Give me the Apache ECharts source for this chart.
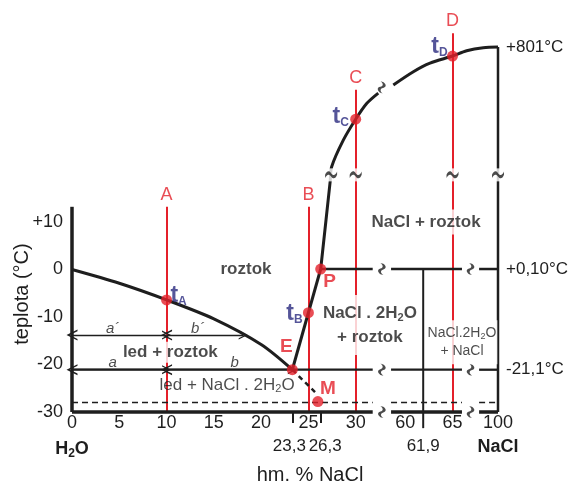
<!DOCTYPE html>
<html>
<head>
<meta charset="utf-8">
<script src="https://cdn.jsdelivr.net/npm/echarts@6/dist/echarts.min.js"></script>
<style>
  html, body { margin: 0; padding: 0; background: #fff; }
  #main { width: 570px; height: 484px; }
</style>
</head>
<body>
<div id="main"></div>
<script>
// tick values and tick labels
const xTicks = [0, 5, 10, 15, 20, 25, 30, 60, 65, 100];
const xMarks = [0, 23.3, 26.3, 61.9, 100];
const xMarkLabels = ['H2O', '23,3', '26,3', '61,9', 'NaCl'];
const yTicks = [-30, -20, -10, 0, 10];
const rightTicks = [-21.1, 0.1, 801];
const rightTickLabels = ['-21,1°C', '+0,10°C', '+801°C'];

// phase boundaries, [hm. % NaCl, teplota °C]
const iceCurve = [[0, 0], [5, -2.9], [10, -6.4], [15, -10.4], [20, -15.8], [23.3, -21.1]];
const iceMetastable = [[23.3, -21.1], [25.7, -25.8]];
const hydrateCurve = [[23.3, -21.1], [26.3, 0.1]];
const saltCurveLow = [[26.3, 0.1], [27.3, 18.5], [27.46, 775.8], [28.69, 781.4], [30, 785.8], [31.16, 789.1], [39.9, 791.3]];
const saltCurveHigh = [[58.74, 793.0], [60.86, 795.8], [62.62, 797.6], [65, 799.1], [74.8, 800.2], [98.44, 800.85], [100, 801]];

// horizontal isotherms (x pieces of the broken axis)
const fullPieces = [[0, 31.8], [58.5, 66], [98, 100]];
const peritecticPieces = [[26.3, 31.8], [58.5, 66], [98, 100]];
const eutecticT = -21.1;
const peritecticT = 0.1;
const metastableT = -28;
const bottomT = -30;

// vertical black lines
const waterAxis = [[0, -30], [0, 13.2]];
const saltAxis = [[100, -30], [100, 801]];
const hydrateLine = [[61.9, 0.1], [61.9, -33.4]];

// lever-rule arrows
const arrowsUpper = [[[0, -13.8], [10, -13.8]], [[10, -13.8], [18.1, -13.8]]];
const arrowsLower = [[[0, -21.1], [10, -21.1]], [[10, -21.1], [23.3, -21.1]]];

// composition lines A-D
const compNames = ['A', 'B', 'C', 'D'];
const compX = [10, 25, 30, 65];
const compTop = [13.2, 13.2, 792, 803.9];

// marked points
const dotNames = ['tA', 'tB', 'tC', 'tD', 'P', 'E', 'M'];
const dotX = [10, 25, 30, 65, 26.3, 23.3, 26];
const dotT = [-6.4, -9.1, 785.8, 799.1, 0.1, -21.1, -27.8];

// axis break glyphs
const vBreakX = [27.4, 30, 65, 100];
const vBreakT = 397;
const hBreakX = [45.15, 82];
const hBreakT = [0.1, -21.1, -30];
const curveBreak = [44.9, 792.5];

const FONT = 'Liberation Sans, Arial, Helvetica, sans-serif';
const RED = '#e4202a';
const NAVY = '#2b2a7f';
const INK = '#1e1e1e';

const xBreaks = [
  { start: 31.8, end: 58.5, gap: 1.94 },
  { start: 66, end: 98, gap: 1.81 }
];
const yBreaks = [{ start: 19, end: 775, gap: 1.84 }];

const chart = echarts.init(document.getElementById('main'));

function xAxisBase(extra) {
  return Object.assign({
    type: 'value', min: 0, max: 100, position: 'bottom',
    breaks: xBreaks, breakArea: { show: false },
    axisLine: { show: false, onZero: false }, splitLine: { show: false }, axisTick: { show: false }
  }, extra);
}
function yAxisBase(extra) {
  return Object.assign({
    type: 'value', min: -30, max: 805,
    breaks: yBreaks, breakArea: { show: false },
    axisLine: { show: false, onZero: false }, splitLine: { show: false }, axisTick: { show: false }
  }, extra);
}

const subRich = {
  b: { fontSize: 18, fontWeight: 'bold', color: INK, fontFamily: FONT },
  s: { fontSize: 12, fontWeight: 'bold', color: INK, fontFamily: FONT, padding: [10, 0, 0, 0] },
  n: { fontSize: 17, color: INK, fontFamily: FONT },
  l: { fontSize: 17, color: INK, fontFamily: FONT, padding: [0, 6, 0, 0] },
  r: { fontSize: 17, color: INK, fontFamily: FONT, padding: [0, 0, 0, 9] }
};

function markLabel(v) {
  const i = xMarks.findIndex(m => Math.abs(m - v) < 1e-6);
  const t = i < 0 ? '' : xMarkLabels[i];
  if (t === 'H2O') return '{b|H}{s|2}{b|O}';
  if (t === 'NaCl') return '{b|NaCl}';
  if (t === '23,3') return '{l|' + t + '}';
  if (t === '26,3') return '{r|' + t + '}';
  return '{n|' + t + '}';
}

const segs = (T, pieces) => pieces.map(p => ({ coords: [[p[0], T], [p[1], T]] }));

function blackLines(name, data, width, type) {
  return {
    name, type: 'lines', coordinateSystem: 'cartesian2d', clip: false, z: 3,
    polyline: true, silent: true,
    lineStyle: { color: INK, width, type: type || 'solid', opacity: 1 },
    data
  };
}

const tRich = {
  t: { fontSize: 23, fontWeight: 'bold', color: NAVY, fontFamily: FONT },
  s: { fontSize: 12, fontWeight: 'bold', color: NAVY, fontFamily: FONT, padding: [12, 0, 0, 0] },
  r: { fontSize: 19, fontWeight: 'bold', color: RED, fontFamily: FONT }
};
const dotLabelOffset = {
  tA: [12, -4], tB: [-14, 1], tC: [-15, -3], tD: [-13, -9],
  P: [9, 13], E: [-6, -23], M: [10, -13]
};
function dotFormatter(name) {
  if (name[0] === 't') return '{t|t}{s|' + name[1] + '}';
  return '{r|' + name + '}';
}

const chevron = 'path://M5,0 L10,9 L8.5,9 L5,2.7 L1.5,9 L0,9 Z';
const tilde = 'path://M0,3.6 C1.5,1 4,0 6,2.4 C8,4.6 10.5,4 12,1.2 L12,3.6 C10.5,6.6 8,7 6,4.8 C4,2.4 1.5,3.4 0,6 Z';

function text(value, formatter, style) {
  return { value, label: Object.assign({ show: true, position: 'inside', formatter }, style) };
}
const boldText = { fontSize: 17, fontWeight: 'bold', color: INK, fontFamily: FONT };
const italicText = { fontSize: 15, fontStyle: 'italic', color: INK, fontFamily: FONT };

const vBreakPoints = vBreakX.map(x => [x, vBreakT]);
const hBreakPoints = hBreakT.flatMap(t => hBreakX.map(x => [x, t]));

chart.setOption({
  animation: false,
  backgroundColor: '#fff',
  grid: { left: 72, right: 72, top: 28, bottom: 72, outerBoundsMode: 'none' },
  xAxis: [
    xAxisBase({
      axisLabel: {
        customValues: xTicks, margin: 2, fontSize: 18, color: INK, fontFamily: FONT,
        formatter: v => String(v)
      }
    }),
    xAxisBase({
      axisTick: {
        show: true, customValues: [23.3, 26.3], length: 11, inside: false,
        lineStyle: { color: INK, width: 2 }
      },
      axisLabel: {
        customValues: xMarks, margin: 26, formatter: markLabel, rich: subRich
      }
    })
  ],
  yAxis: [
    yAxisBase({
      position: 'left',
      axisLabel: {
        customValues: yTicks, margin: 9, fontSize: 18, color: INK, fontFamily: FONT,
        formatter: v => (v > 0 ? '+' + v : String(v))
      }
    }),
    yAxisBase({
      position: 'right',
      axisLabel: {
        customValues: rightTicks, margin: 8, fontSize: 17, color: INK, fontFamily: FONT,
        formatter: v => {
          const i = rightTicks.findIndex(m => Math.abs(m - v) < 1e-6);
          return i < 0 ? '' : rightTickLabels[i];
        }
      }
    })
  ],
  graphic: [
    {
      type: 'text', x: 22, y: 294, rotation: Math.PI / 2,
      style: { text: 'teplota (°C)', fill: INK, font: '20px ' + FONT, align: 'center', verticalAlign: 'middle' }
    },
    {
      type: 'text', x: 310, y: 475,
      style: { text: 'hm. % NaCl', fill: INK, font: '20px ' + FONT, align: 'center', verticalAlign: 'middle' }
    }
  ],
  series: [
    // red composition lines
    {
      name: 'composition', type: 'lines', coordinateSystem: 'cartesian2d', clip: false, z: 1,
      silent: true, lineStyle: { color: RED, width: 2, opacity: 1 },
      data: compX.map((x, i) => ({ coords: [[x, -30], [x, compTop[i]]] }))
    },
    {
      name: 'composition labels', type: 'scatter', symbolSize: 0, z: 6, clip: false,
      data: compX.map((x, i) => ({
        value: [x, compTop[i]],
        label: { show: true, position: 'inside', offset: [0, -12], formatter: compNames[i],
          fontSize: 18, color: RED, fontFamily: FONT }
      }))
    },
    // black frame lines and isotherms
    blackLines('water axis', [{ coords: waterAxis }], 3.5),
    blackLines('salt axis', [{ coords: saltAxis }], 2.5),
    blackLines('hydrate', [{ coords: hydrateLine }], 2),
    blackLines('bottom', segs(bottomT, fullPieces), 3.5),
    blackLines('eutectic', segs(eutecticT, fullPieces), 2.3),
    blackLines('peritectic', segs(peritecticT, peritecticPieces), 2.5),
    blackLines('metastable', segs(metastableT, fullPieces), 1.5, [6, 4]),
    // lever-rule arrows
    {
      name: 'lever upper', type: 'lines', coordinateSystem: 'cartesian2d', clip: false, z: 3,
      silent: true, symbol: [chevron, chevron], symbolSize: [11, 9],
      lineStyle: { color: INK, width: 1.3, opacity: 1 },
      data: arrowsUpper.map(c => ({ coords: c }))
    },
    {
      name: 'lever lower', type: 'lines', coordinateSystem: 'cartesian2d', clip: false, z: 3,
      silent: true, symbol: [chevron, chevron], symbolSize: [11, 9],
      lineStyle: { color: INK, width: 1.3, opacity: 1 },
      data: arrowsLower.map(c => ({ coords: c }))
    },
    // liquidus curves
    {
      name: 'ice', type: 'line', data: iceCurve, smooth: 0.3, showSymbol: false, clip: false, z: 3,
      lineStyle: { color: INK, width: 3 }
    },
    {
      name: 'ice metastable', type: 'line', data: iceMetastable, showSymbol: false, clip: false, z: 3,
      lineStyle: { color: INK, width: 2.5, type: [5, 4] }
    },
    {
      name: 'hydrate liquidus', type: 'line', data: hydrateCurve, showSymbol: false, clip: false, z: 3,
      lineStyle: { color: INK, width: 3 }
    },
    {
      name: 'salt liquidus 1', type: 'line', data: saltCurveLow, smooth: 0.3, showSymbol: false, clip: false, z: 3,
      lineStyle: { color: INK, width: 3 }
    },
    {
      name: 'salt liquidus 2', type: 'line', data: saltCurveHigh, smooth: 0.3, showSymbol: false, clip: false, z: 3,
      lineStyle: { color: INK, width: 3 }
    },
    // axis break glyphs
    {
      name: 'breaks mask', type: 'scatter', symbol: 'rect', symbolSize: [15, 13], z: 4, clip: false,
      silent: true, itemStyle: { color: '#fff' },
      data: vBreakPoints
    },
    {
      name: 'breaks v', type: 'scatter', symbol: tilde, symbolSize: [12, 7], z: 5, clip: false,
      silent: true, itemStyle: { color: INK },
      data: vBreakPoints
    },
    {
      name: 'breaks h', type: 'scatter', symbol: tilde, symbolSize: [11, 6.5], symbolRotate: 75,
      z: 5, clip: false, silent: true, itemStyle: { color: INK },
      data: hBreakPoints
    },
    {
      name: 'breaks curve', type: 'scatter', symbol: tilde, symbolSize: [11, 6.5], symbolRotate: 70,
      z: 5, clip: false, silent: true, itemStyle: { color: INK },
      data: [curveBreak]
    },
    // region labels
    {
      name: 'regions', type: 'scatter', symbolSize: 0, z: 5, clip: false,
      data: [
        text([18.4, 0], 'roztok', boldText),
        text([10.4, -17.4], 'led + roztok', Object.assign({ backgroundColor: '#fff', padding: [2, 3] }, boldText)),
        text([16.4, -24.3], '{n|led + NaCl . 2H}{s|2}{n|O}', {
          rich: {
            n: { fontSize: 17, color: INK, fontFamily: FONT },
            s: { fontSize: 11, color: INK, fontFamily: FONT, padding: [9, 0, 0, 0] }
          }
        }),
        text([31.5, -11.7], '{b|NaCl . 2H}{s|2}{b|O}\n{b|+ roztok}', {
          backgroundColor: '#fff', padding: [6, 3], align: 'center',
          rich: {
            b: { fontSize: 17, fontWeight: 'bold', color: INK, fontFamily: FONT, lineHeight: 24 },
            s: { fontSize: 11, fontWeight: 'bold', color: INK, fontFamily: FONT, padding: [9, 0, 0, 0], lineHeight: 24 }
          }
        }),
        text([62.2, 10], 'NaCl + roztok', Object.assign({ backgroundColor: '#fff', padding: [4, 2] }, boldText)),
        text([66, -15.3], '{n|NaCl.2H}{s|2}{n|O}\n{n|+ NaCl}', {
          backgroundColor: '#fff', padding: [4, 1], align: 'center',
          rich: {
            n: { fontSize: 14, color: INK, fontFamily: FONT, lineHeight: 18 },
            s: { fontSize: 9, color: INK, fontFamily: FONT, padding: [7, 0, 0, 0], lineHeight: 18 }
          }
        }),
        text([4.3, -12.5], 'a´', italicText),
        text([13.3, -12.5], 'b´', italicText),
        text([4.3, -19.7], 'a', italicText),
        text([17.2, -19.7], 'b', italicText)
      ]
    },
    // marked points
    {
      name: 'points', type: 'scatter', symbol: 'circle', symbolSize: 11, z: 7, clip: false,
      itemStyle: { color: RED },
      data: dotNames.map((n, i) => ({
        value: [dotX[i], dotT[i]],
        label: {
          show: true, position: 'inside', offset: dotLabelOffset[n],
          formatter: dotFormatter(n), rich: tRich
        }
      }))
    }
  ]
});
</script>
</body>
</html>
